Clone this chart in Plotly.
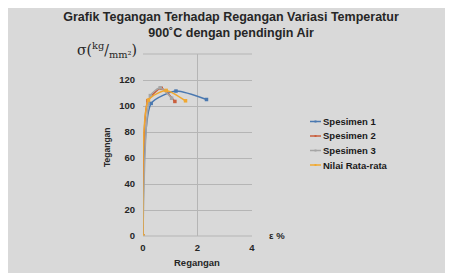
import plotly.graph_objects as go

# Data
s1_x = [0, 0.30, 1.21, 2.33]
s1_y = [0, 102, 111.5, 105]
s2_x = [0, 0.18, 0.67, 1.17]
s2_y = [0, 104, 113.6, 103.5]
s3_x = [0, 0.27, 0.63, 1.05]
s3_y = [0, 108, 114, 106]
avg_x = [0, 0.20, 0.85, 1.56]
avg_y = [0, 104.6, 112, 104]

names = ["Spesimen 1", "Spesimen 2", "Spesimen 3", "Nilai Rata-rata"]
colors = ["#4A78B0", "#C95E3C", "#A5A5A5", "#F0A830"]
series = [(s1_x, s1_y), (s2_x, s2_y), (s3_x, s3_y), (avg_x, avg_y)]

x_ticks = [0, 2, 4]
y_ticks = [0, 20, 40, 60, 80, 100, 120]

FONT = "Liberation Sans"
TXT = "#262626"
fig = go.Figure()
for (xs, ys), n, c in zip(series, names, colors):
    fig.add_trace(go.Scatter(
        x=xs, y=ys, name=n, mode="lines+markers", showlegend=False,
        line=dict(color=c, width=1.5, shape="spline", smoothing=0.6),
        marker=dict(color=c, size=3.5, symbol="square"),
    ))

# The page body has an 8px margin, so the figure starts at (8, 8) on the page.
OFF = 8
W, H = 453 - OFF, 273 - OFF
# Plot area in page pixels: x 143..252, y 54..236
L, R, T, B = 143 - OFF, 252 - OFF, 54 - OFF, 236 - OFF

def px(x):  # page pixel -> paper x
    return (x - OFF - L) / (R - L)
def py(y):  # page pixel -> paper y
    return (B - (y - OFF)) / (B - T)

bg = "#D9D9D9"
grid = "#B5B5B5"

shapes = [
    dict(type="line", xref="paper", yref="paper", x0=0, x1=1, y0=1, y1=1, line=dict(color=grid, width=1)),
    dict(type="line", xref="paper", yref="paper", x0=0, x1=1, y0=0, y1=0, line=dict(color=grid, width=1)),
]
annotations = [
    dict(text="σ(<sup>kg</sup>/<sub>mm²</sub>)", xref="paper", yref="paper",
         x=px(139), y=py(50), xanchor="right", yanchor="middle", showarrow=False,
         font=dict(size=14, family="DejaVu Serif", color=TXT)),
    dict(text="<b>ε %</b>", xref="paper", yref="paper",
         x=px(277), y=py(235), xanchor="center", yanchor="middle", showarrow=False,
         font=dict(size=9.5, family=FONT, color=TXT)),
    dict(text="<b>Regangan</b>", xref="paper", yref="paper",
         x=px(197), y=py(262), xanchor="center", yanchor="middle", showarrow=False,
         font=dict(size=9.5, family=FONT, color=TXT)),
    dict(text="<b>Tegangan</b>", xref="paper", yref="paper", textangle=-90,
         x=px(107), y=py(147), xanchor="center", yanchor="middle", showarrow=False,
         font=dict(size=8.5, family=FONT, color=TXT)),
]

# Legend drawn by hand to match the compact spacing of the reference
leg_y = [121.5, 136, 150.5, 165]
for n, c, yy in zip(names, colors, leg_y):
    shapes.append(dict(type="line", xref="paper", yref="paper",
                       x0=px(310), x1=px(321), y0=py(yy), y1=py(yy),
                       line=dict(color=c, width=1.5)))
    shapes.append(dict(type="rect", xref="paper", yref="paper",
                       x0=px(314.5), x1=px(316.5), y0=py(yy - 1), y1=py(yy + 1),
                       line=dict(width=0), fillcolor=c))
    annotations.append(dict(text="<b>" + n + "</b>", xref="paper", yref="paper",
                            x=px(321), y=py(yy), xanchor="left", yanchor="middle",
                            showarrow=False,
                            font=dict(size=9.5, family=FONT, color="#1a1a1a")))

fig.update_layout(
    width=W, height=H,
    paper_bgcolor=bg, plot_bgcolor=bg,
    margin=dict(l=L, r=W - R, t=T, b=H - B, autoexpand=False),
    font=dict(family=FONT, color=TXT),
    title=dict(
        text="<b>Grafik Tegangan Terhadap Regangan Variasi Temperatur<br>900˚C dengan pendingin Air</b>",
        x=(231 - OFF) / W, xanchor="center", yref="container", y=1 - 13 / H, yanchor="top",
        font=dict(size=12.5, family=FONT, color=TXT),
    ),
    showlegend=False,
    xaxis=dict(
        range=[0, 4], tickvals=x_ticks, showgrid=True, gridcolor=grid, gridwidth=1,
        zeroline=False, showline=False, automargin=False,
        tickfont=dict(size=9.5, family=FONT, weight="bold"),
        ticks="", ticklen=0, ticklabelstandoff=4,
    ),
    yaxis=dict(
        range=[0, 140], tickvals=y_ticks, showgrid=True, gridcolor=grid, gridwidth=1,
        zeroline=False, showline=False, automargin=False,
        tickfont=dict(size=9.5, family=FONT, weight="bold"),
        ticks="", ticklen=0, ticklabelstandoff=7,
    ),
    shapes=shapes,
    annotations=annotations,
)

fig.write_html("out.html")
